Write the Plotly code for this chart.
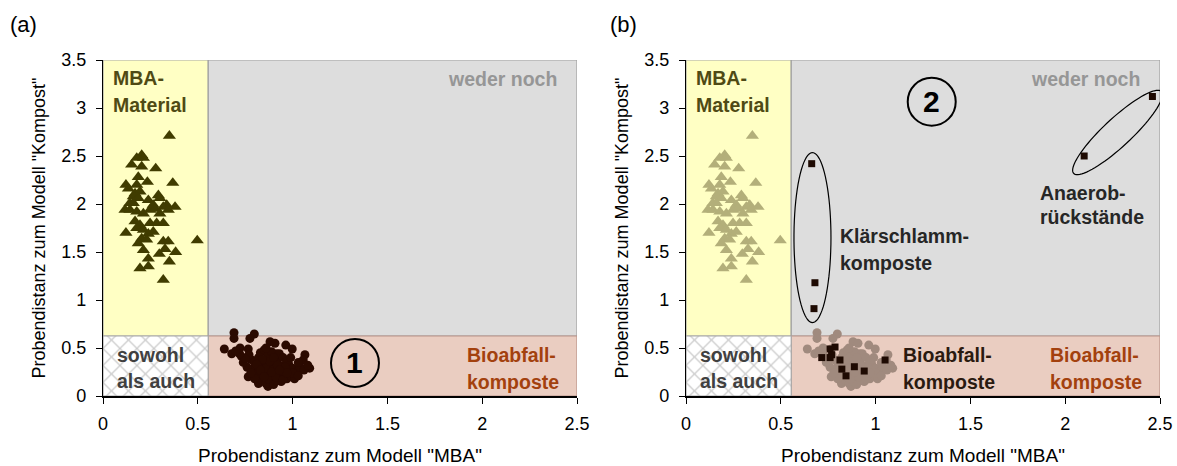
import numpy as np
import plotly.graph_objects as go

# ---------------- data ----------------
# MBA material samples (triangles)
mba_x = [0.35, 0.204, 0.178, 0.213, 0.151, 0.204, 0.278, 0.186, 0.234, 0.121, 0.368, 0.178,
         0.134, 0.169, 0.195, 0.16, 0.186, 0.239, 0.292, 0.30, 0.142, 0.16, 0.265, 0.336,
         0.38, 0.116, 0.142, 0.178, 0.213, 0.248, 0.274, 0.318, 0.344, 0.30, 0.169, 0.195,
         0.248, 0.283, 0.318, 0.121, 0.178, 0.213, 0.239, 0.265, 0.204, 0.23, 0.186, 0.318,
         0.344, 0.497, 0.213, 0.327, 0.383, 0.297, 0.239, 0.35, 0.195, 0.239, 0.318]
mba_y = [2.71, 2.51, 2.48, 2.48, 2.41, 2.39, 2.37, 2.28, 2.23, 2.20, 2.22, 2.20,
         2.16, 2.11, 2.13, 2.08, 2.06, 2.04, 2.09, 2.06, 2.01, 2.01, 1.99, 1.99,
         1.97, 1.94, 1.94, 1.92, 1.90, 1.94, 1.95, 1.97, 1.94, 1.90, 1.82, 1.78,
         1.80, 1.80, 1.80, 1.70, 1.75, 1.73, 1.69, 1.71, 1.64, 1.63, 1.59, 1.61,
         1.61, 1.62, 1.52, 1.53, 1.50, 1.48, 1.43, 1.40, 1.33, 1.35, 1.21]

# Biowaste compost samples (circles)
bio_x = [0.691, 0.798, 0.691, 0.775, 0.881, 0.907, 0.964, 0.640, 0.723, 0.766, 0.998, 0.679,
         1.065, 0.916, 0.731, 1.056, 1.090, 0.766, 0.820, 0.940, 0.870,
         0.78, 0.80, 0.82, 0.84, 0.86, 0.88, 0.90, 0.92, 0.94, 0.96, 0.98, 1.00, 1.02, 1.04,
         0.79, 0.81, 0.83, 0.85, 0.87, 0.89, 0.91, 0.93, 0.95, 0.97, 0.99, 1.01,
         0.84, 0.86, 0.88, 0.90, 0.92, 0.80, 0.76, 0.74, 0.77, 0.83, 0.85, 0.87, 0.89,
         0.93, 0.95, 0.97, 0.99, 1.03, 1.06, 1.08, 0.82, 0.86, 0.90, 0.94, 0.88, 0.92,
         0.96, 0.84, 0.81, 0.78, 0.83, 0.87, 0.91, 0.95, 1.00, 1.03, 0.97, 0.85, 0.89,
         0.93, 0.75, 0.72, 0.70, 0.86, 0.90]
bio_y = [0.66, 0.646, 0.60, 0.60, 0.566, 0.55, 0.53, 0.49, 0.50, 0.49, 0.49, 0.44,
         0.43, 0.44, 0.41, 0.375, 0.29, 0.20, 0.13, 0.15, 0.10,
         0.38, 0.35, 0.40, 0.33, 0.37, 0.30, 0.34, 0.38, 0.31, 0.27, 0.33, 0.29, 0.25, 0.30,
         0.28, 0.24, 0.21, 0.26, 0.22, 0.19, 0.24, 0.20, 0.22, 0.18, 0.21, 0.18,
         0.16, 0.13, 0.15, 0.12, 0.16, 0.18, 0.30, 0.35, 0.43, 0.45, 0.48, 0.42, 0.46,
         0.44, 0.40, 0.36, 0.40, 0.35, 0.27, 0.32, 0.30, 0.29, 0.28, 0.26, 0.36, 0.32,
         0.30, 0.38, 0.33, 0.24, 0.27, 0.18, 0.20, 0.17, 0.24, 0.21, 0.24, 0.20, 0.25,
         0.27, 0.39, 0.44, 0.47, 0.50, 0.40]

# Test samples in panel (b) (squares)
test_x = [0.786, 0.76, 0.768, 0.716, 0.76, 0.812, 1.05, 0.888, 0.822, 0.94, 0.844,
          0.663, 0.68, 0.675, 2.10, 2.46]
test_y = [0.51, 0.49, 0.43, 0.40, 0.40, 0.375, 0.375, 0.305, 0.28, 0.26, 0.21,
          2.42, 1.18, 0.91, 2.50, 3.12]

# class thresholds and axis ranges
x_thr = 0.555
y_thr = 0.625
x_max = 2.5
y_max = 3.5
x_ticks = [0, 0.5, 1, 1.5, 2, 2.5]
y_ticks = [0, 0.5, 1, 1.5, 2, 2.5, 3, 3.5]

# ---------------- styling ----------------
FONT = "Arial, Liberation Sans, sans-serif"
W, H = 1177, 466
px_left = [103, 686]
px_w = 474
px_top, px_bot = 60, 396
M_L, M_R, M_T, M_B = 103, W - 1160, 60, H - 396
PW = W - M_L - M_R
PH = H - M_T - M_B
sx = px_w / x_max          # px per x unit
sy = (px_bot - px_top) / y_max

fig = go.Figure()

def region_traces(xa, ya):
    regs = [
        dict(x=[0, x_thr, x_thr, 0, 0], y=[y_thr, y_thr, y_max, y_max, y_thr],
             fill="#FFFFC4", line="#A8A8A8", pattern=None),
        dict(x=[x_thr, x_max, x_max, x_thr, x_thr], y=[y_thr, y_thr, y_max, y_max, y_thr],
             fill="#DDDDDD", line="#A0A0A0", pattern=None),
        dict(x=[x_thr, x_max, x_max, x_thr, x_thr], y=[0, 0, y_thr, y_thr, 0],
             fill="#EACDC1", line="#B9948A", pattern=None),
        dict(x=[0, x_thr, x_thr, 0, 0], y=[0, 0, y_thr, y_thr, 0],
             fill="#FFFFFF", line="#A8A8A8", pattern="x"),
    ]
    for r in regs:
        kw = dict(x=r["x"], y=r["y"], mode="lines", fill="toself", fillcolor=r["fill"],
                  line=dict(color=r["line"], width=1.2), hoverinfo="skip",
                  showlegend=False, xaxis=xa, yaxis=ya)
        if r["pattern"]:
            kw["fillpattern"] = dict(shape="x", fgcolor="#9A9A9A", bgcolor="#FFFFFF",
                                     size=12, solidity=0.2)
        fig.add_trace(go.Scatter(**kw))

# panel (a)
region_traces("x", "y")
fig.add_trace(go.Scatter(x=mba_x, y=mba_y, mode="markers", xaxis="x", yaxis="y",
                         marker=dict(symbol="triangle-up", size=11.5, color="#403C00"),
                         showlegend=False, hoverinfo="skip"))
fig.add_trace(go.Scatter(x=bio_x, y=bio_y, mode="markers", xaxis="x", yaxis="y",
                         marker=dict(symbol="circle", size=9, color="#2B0A00"),
                         showlegend=False, hoverinfo="skip"))

# panel (b)
region_traces("x2", "y2")
fig.add_trace(go.Scatter(x=mba_x, y=mba_y, mode="markers", xaxis="x2", yaxis="y2",
                         marker=dict(symbol="triangle-up", size=11.5, color="#B3AF7A"),
                         showlegend=False, hoverinfo="skip"))
fig.add_trace(go.Scatter(x=bio_x, y=bio_y, mode="markers", xaxis="x2", yaxis="y2",
                         marker=dict(symbol="circle", size=9, color="#A08A7E"),
                         showlegend=False, hoverinfo="skip"))
fig.add_trace(go.Scatter(x=test_x, y=test_y, mode="markers", xaxis="x2", yaxis="y2",
                         marker=dict(symbol="square", size=7, color="#1E0A02"),
                         showlegend=False, hoverinfo="skip"))

# ellipses in panel (b)
def ellipse_path(cx, cy, a_px, b_px, ang_deg, n=80):
    t = np.linspace(0, 2 * np.pi, n)
    ang = np.radians(ang_deg)
    u = a_px * np.cos(t)
    v = b_px * np.sin(t)
    dx = u * np.cos(ang) - v * np.sin(ang)
    dy = u * np.sin(ang) + v * np.cos(ang)
    xs = cx + dx / sx
    ys = cy + dy / sy
    return "M " + " L ".join(f"{a:.4f},{b:.4f}" for a, b in zip(xs, ys)) + " Z"

fig.add_shape(type="path", path=ellipse_path(0.667, 1.65, 18.5, 85, 0),
              xref="x2", yref="y2", line=dict(color="#000000", width=1.2))
fig.add_shape(type="path", path=ellipse_path(2.276, 2.745, 60, 14, 43),
              xref="x2", yref="y2", line=dict(color="#000000", width=1.2))

# circled numbers
for xr, yr, cx, cy, lab in [("x", "y", 1.329, 0.344, "1"), ("x2", "y2", 1.296, 3.066, "2")]:
    fig.add_shape(type="circle", xref=xr, yref=yr, xsizemode="pixel", ysizemode="pixel",
                  xanchor=cx, yanchor=cy, x0=-24, x1=24, y0=-24, y1=24,
                  line=dict(color="#000000", width=2))
    fig.add_annotation(x=cx, y=cy, xref=xr, yref=yr, text=f"<b>{lab}</b>", showarrow=False,
                       font=dict(family=FONT, size=30, color="#000000"))

def txt(xr, yr, x, y, s, color, anchor="left", size=19.5):
    fig.add_annotation(x=x, y=y, xref=xr, yref=yr, text=f"<b>{s}</b>", showarrow=False,
                       xanchor=anchor, yanchor="middle",
                       font=dict(family=FONT, size=size, color=color))

for xr, yr in [("x", "y"), ("x2", "y2")]:
    txt(xr, yr, 0.040, 3.31, "MBA-", "#4F4A14")
    txt(xr, yr, 0.040, 3.035, "Material", "#4F4A14")
    txt(xr, yr, 2.405, 3.30, "weder noch", "#969696", anchor="right")
    txt(xr, yr, 0.065, 0.425, "sowohl", "#404040")
    txt(xr, yr, 0.065, 0.152, "als auch", "#404040")
    txt(xr, yr, 1.91, 0.43, "Bioabfall-", "#A3410E")
    txt(xr, yr, 1.91, 0.149, "komposte", "#A3410E")

txt("x2", "y2", 0.80, 1.667, "Klärschlamm-", "#262626")
txt("x2", "y2", 0.80, 1.385, "komposte", "#262626")
txt("x2", "y2", 1.858, 2.118, "Anaerob-", "#262626")
txt("x2", "y2", 1.858, 1.868, "rückstände", "#262626")
txt("x2", "y2", 1.132, 0.43, "Bioabfall-", "#2A1A10")
txt("x2", "y2", 1.132, 0.149, "komposte", "#2A1A10")

# panel labels
for xp, lab in [(8, "(a)"), (608, "(b)")]:
    fig.add_annotation(x=(xp - M_L) / PW, y=(H - M_B - 25) / PH, xref="paper", yref="paper",
                       text=lab, showarrow=False, xanchor="left", yanchor="middle",
                       font=dict(family=FONT, size=22, color="#000000"))

def xaxis_cfg(i):
    return dict(domain=[(px_left[i] - M_L) / PW, (px_left[i] + px_w - M_L) / PW],
                range=[0, x_max],
                tickvals=x_ticks, ticktext=[f"{v:g}" for v in x_ticks],
                showgrid=False, zeroline=False, showline=True, linecolor="#000000",
                linewidth=1.5, ticks="outside", ticklen=6, tickcolor="#000000",
                tickfont=dict(family=FONT, size=18, color="#000000"),
                ticklabelstandoff=5, automargin=False,
                title=dict(text='Probendistanz zum Modell "MBA"', standoff=18,
                           font=dict(family=FONT, size=19, color="#000000")),
                anchor="y" if i == 0 else "y2", fixedrange=True)

def yaxis_cfg(i):
    return dict(domain=[0, 1], range=[0, y_max], tickvals=y_ticks,
                ticktext=[f"{v:g}" for v in y_ticks],
                showgrid=False, zeroline=False, showline=True, linecolor="#000000",
                linewidth=1.2, ticks="outside", ticklen=6, tickcolor="#000000",
                tickfont=dict(family=FONT, size=18, color="#000000"),
                ticklabelstandoff=6, automargin=False,
                title=dict(text='Probendistanz zum Modell "Kompost"', standoff=10,
                           font=dict(family=FONT, size=18, color="#000000")),
                anchor="x" if i == 0 else "x2", fixedrange=True)

fig.update_layout(
    width=W, height=H, margin=dict(l=M_L, r=M_R, t=M_T, b=M_B, autoexpand=False),
    paper_bgcolor="#FFFFFF", plot_bgcolor="rgba(0,0,0,0)",
    xaxis=xaxis_cfg(0), xaxis2=xaxis_cfg(1),
    yaxis=yaxis_cfg(0), yaxis2=yaxis_cfg(1),
    showlegend=False, font=dict(family=FONT), hovermode=False,
)

fig.write_html("out.html", config={"displayModeBar": False},
               post_script="document.body.style.margin='0';document.body.style.overflow='hidden';")
